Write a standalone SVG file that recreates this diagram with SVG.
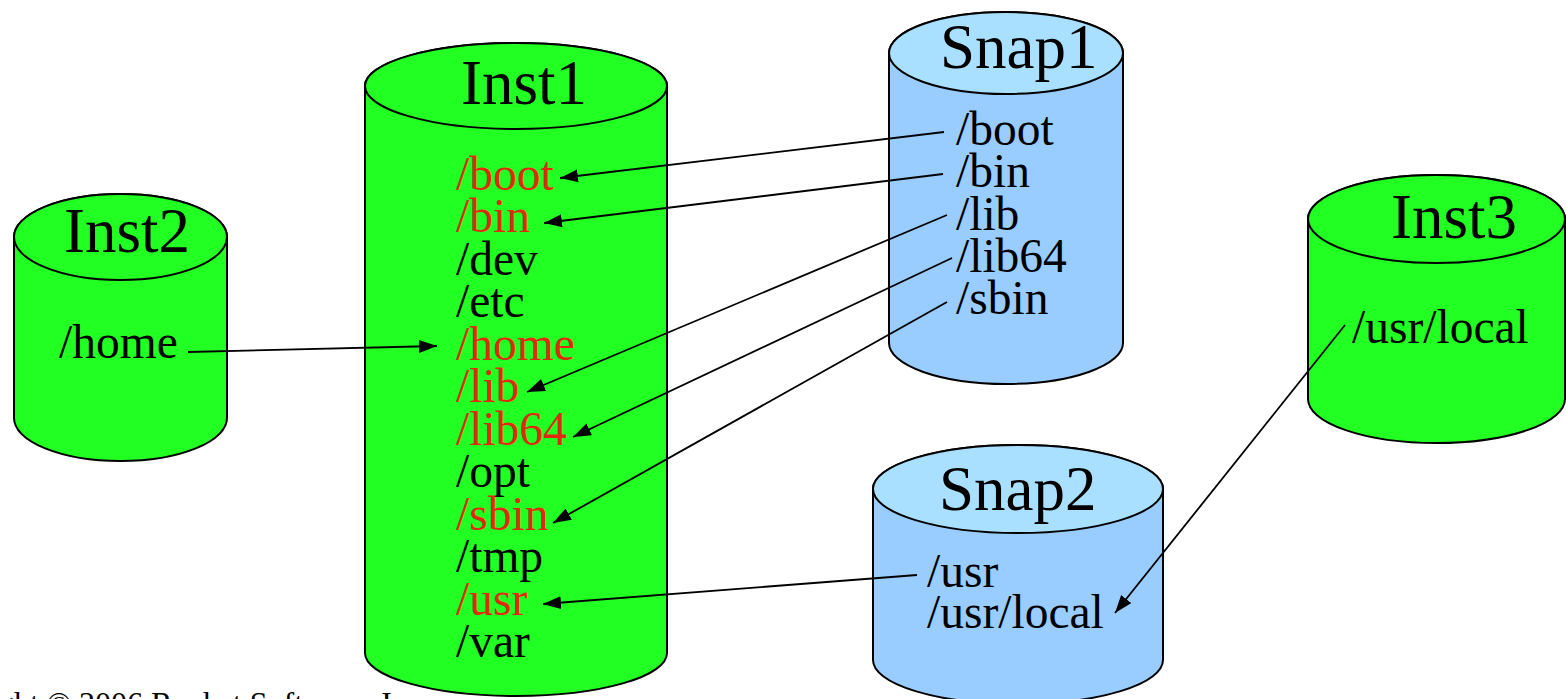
<svg xmlns="http://www.w3.org/2000/svg" width="1566" height="699" viewBox="0 0 1566 699">
<style>
.body{stroke:#000;stroke-width:2}
.g{fill:#22ff22}
.bb{fill:#99ccff}
.bt{fill:#aae0ff}
text{font-family:"Liberation Serif","Times New Roman",serif;fill:#000}
.t{font-size:63px}
.l{font-size:47.5px}
.r{fill:#e02a0f}
.ft{font-size:32px}
.c line{stroke:#000;stroke-width:1.8;marker-end:url(#ah)}
</style>
<defs>
<marker id="ah" markerUnits="userSpaceOnUse" markerWidth="20" markerHeight="14" refX="18" refY="6.5" orient="auto">
<path d="M0,0 L18,6.5 L0,13 z" fill="#000"/>
</marker>
</defs>
<rect width="1566" height="699" fill="#fff"/>
<text class="ft" x="-91" y="714">Copyright © 2006 Rocket Software, Inc.</text>
<g id="inst1">
<path class="body g" d="M365,86 V653 A151,43 0 0 0 667,653 V86 A151,43 0 0 0 365,86 Z"/>
<ellipse class="body g" cx="516" cy="86" rx="151" ry="43"/>
<text class="t" x="461" y="104">Inst1</text>
<text class="l r" x="456" y="189.5">/boot</text>
<text class="l r" x="456" y="232">/bin</text>
<text class="l" x="456" y="274.5">/dev</text>
<text class="l" x="456" y="317">/etc</text>
<text class="l r" x="456" y="359.5">/home</text>
<text class="l r" x="456" y="402">/lib</text>
<text class="l r" x="456" y="444.5">/lib64</text>
<text class="l" x="456" y="487">/opt</text>
<text class="l r" x="456" y="529.5">/sbin</text>
<text class="l" x="456" y="572">/tmp</text>
<text class="l r" x="456" y="614.5">/usr</text>
<text class="l" x="456" y="657">/var</text>
</g>
<g id="inst2">
<path class="body g" d="M14,237 V418 A106.5,43 0 0 0 227,418 V237 A106.5,43 0 0 0 14,237 Z"/>
<ellipse class="body g" cx="120.5" cy="237" rx="106.5" ry="43"/>
<text class="t" x="64" y="252">Inst2</text>
<text class="l" x="59" y="358">/home</text>
</g>
<g id="inst3">
<path class="body g" d="M1308,219 V399 A128.5,44 0 0 0 1565,399 V219 A128.5,44 0 0 0 1308,219 Z"/>
<ellipse class="body g" cx="1436.5" cy="219" rx="128.5" ry="44"/>
<text class="t" x="1391" y="238">Inst3</text>
<text class="l" x="1352" y="343">/usr/local</text>
</g>
<g id="snap1">
<path class="body bb" d="M889,53 V343 A117,41 0 0 0 1123,343 V53 A117,41 0 0 0 889,53 Z"/>
<ellipse class="body bt" cx="1006" cy="53" rx="117" ry="41"/>
<text class="t" x="940" y="68">Snap1</text>
<text class="l" x="956" y="145">/boot</text>
<text class="l" x="956" y="187">/bin</text>
<text class="l" x="956" y="229.5">/lib</text>
<text class="l" x="956" y="272">/lib64</text>
<text class="l" x="956" y="314">/sbin</text>
</g>
<g id="snap2">
<path class="body bb" d="M873,489 V660 A145,44 0 0 0 1163,660 V489 A145,44 0 0 0 873,489 Z"/>
<ellipse class="body bt" cx="1018" cy="489" rx="145" ry="44"/>
<text class="t" x="939" y="510">Snap2</text>
<text class="l" x="927" y="587">/usr</text>
<text class="l" x="927" y="628">/usr/local</text>
</g>
<g id="connectors" class="c">
<line x1="944" y1="132" x2="560" y2="178"/>
<line x1="943" y1="174" x2="544" y2="223"/>
<line x1="947" y1="215" x2="527" y2="392"/>
<line x1="952" y1="258" x2="573" y2="437"/>
<line x1="947" y1="302" x2="553" y2="523"/>
<line x1="917" y1="575" x2="543" y2="604"/>
<line x1="188" y1="352" x2="437" y2="346"/>
<line x1="1345" y1="325" x2="1115" y2="613"/>
</g>
</svg>
